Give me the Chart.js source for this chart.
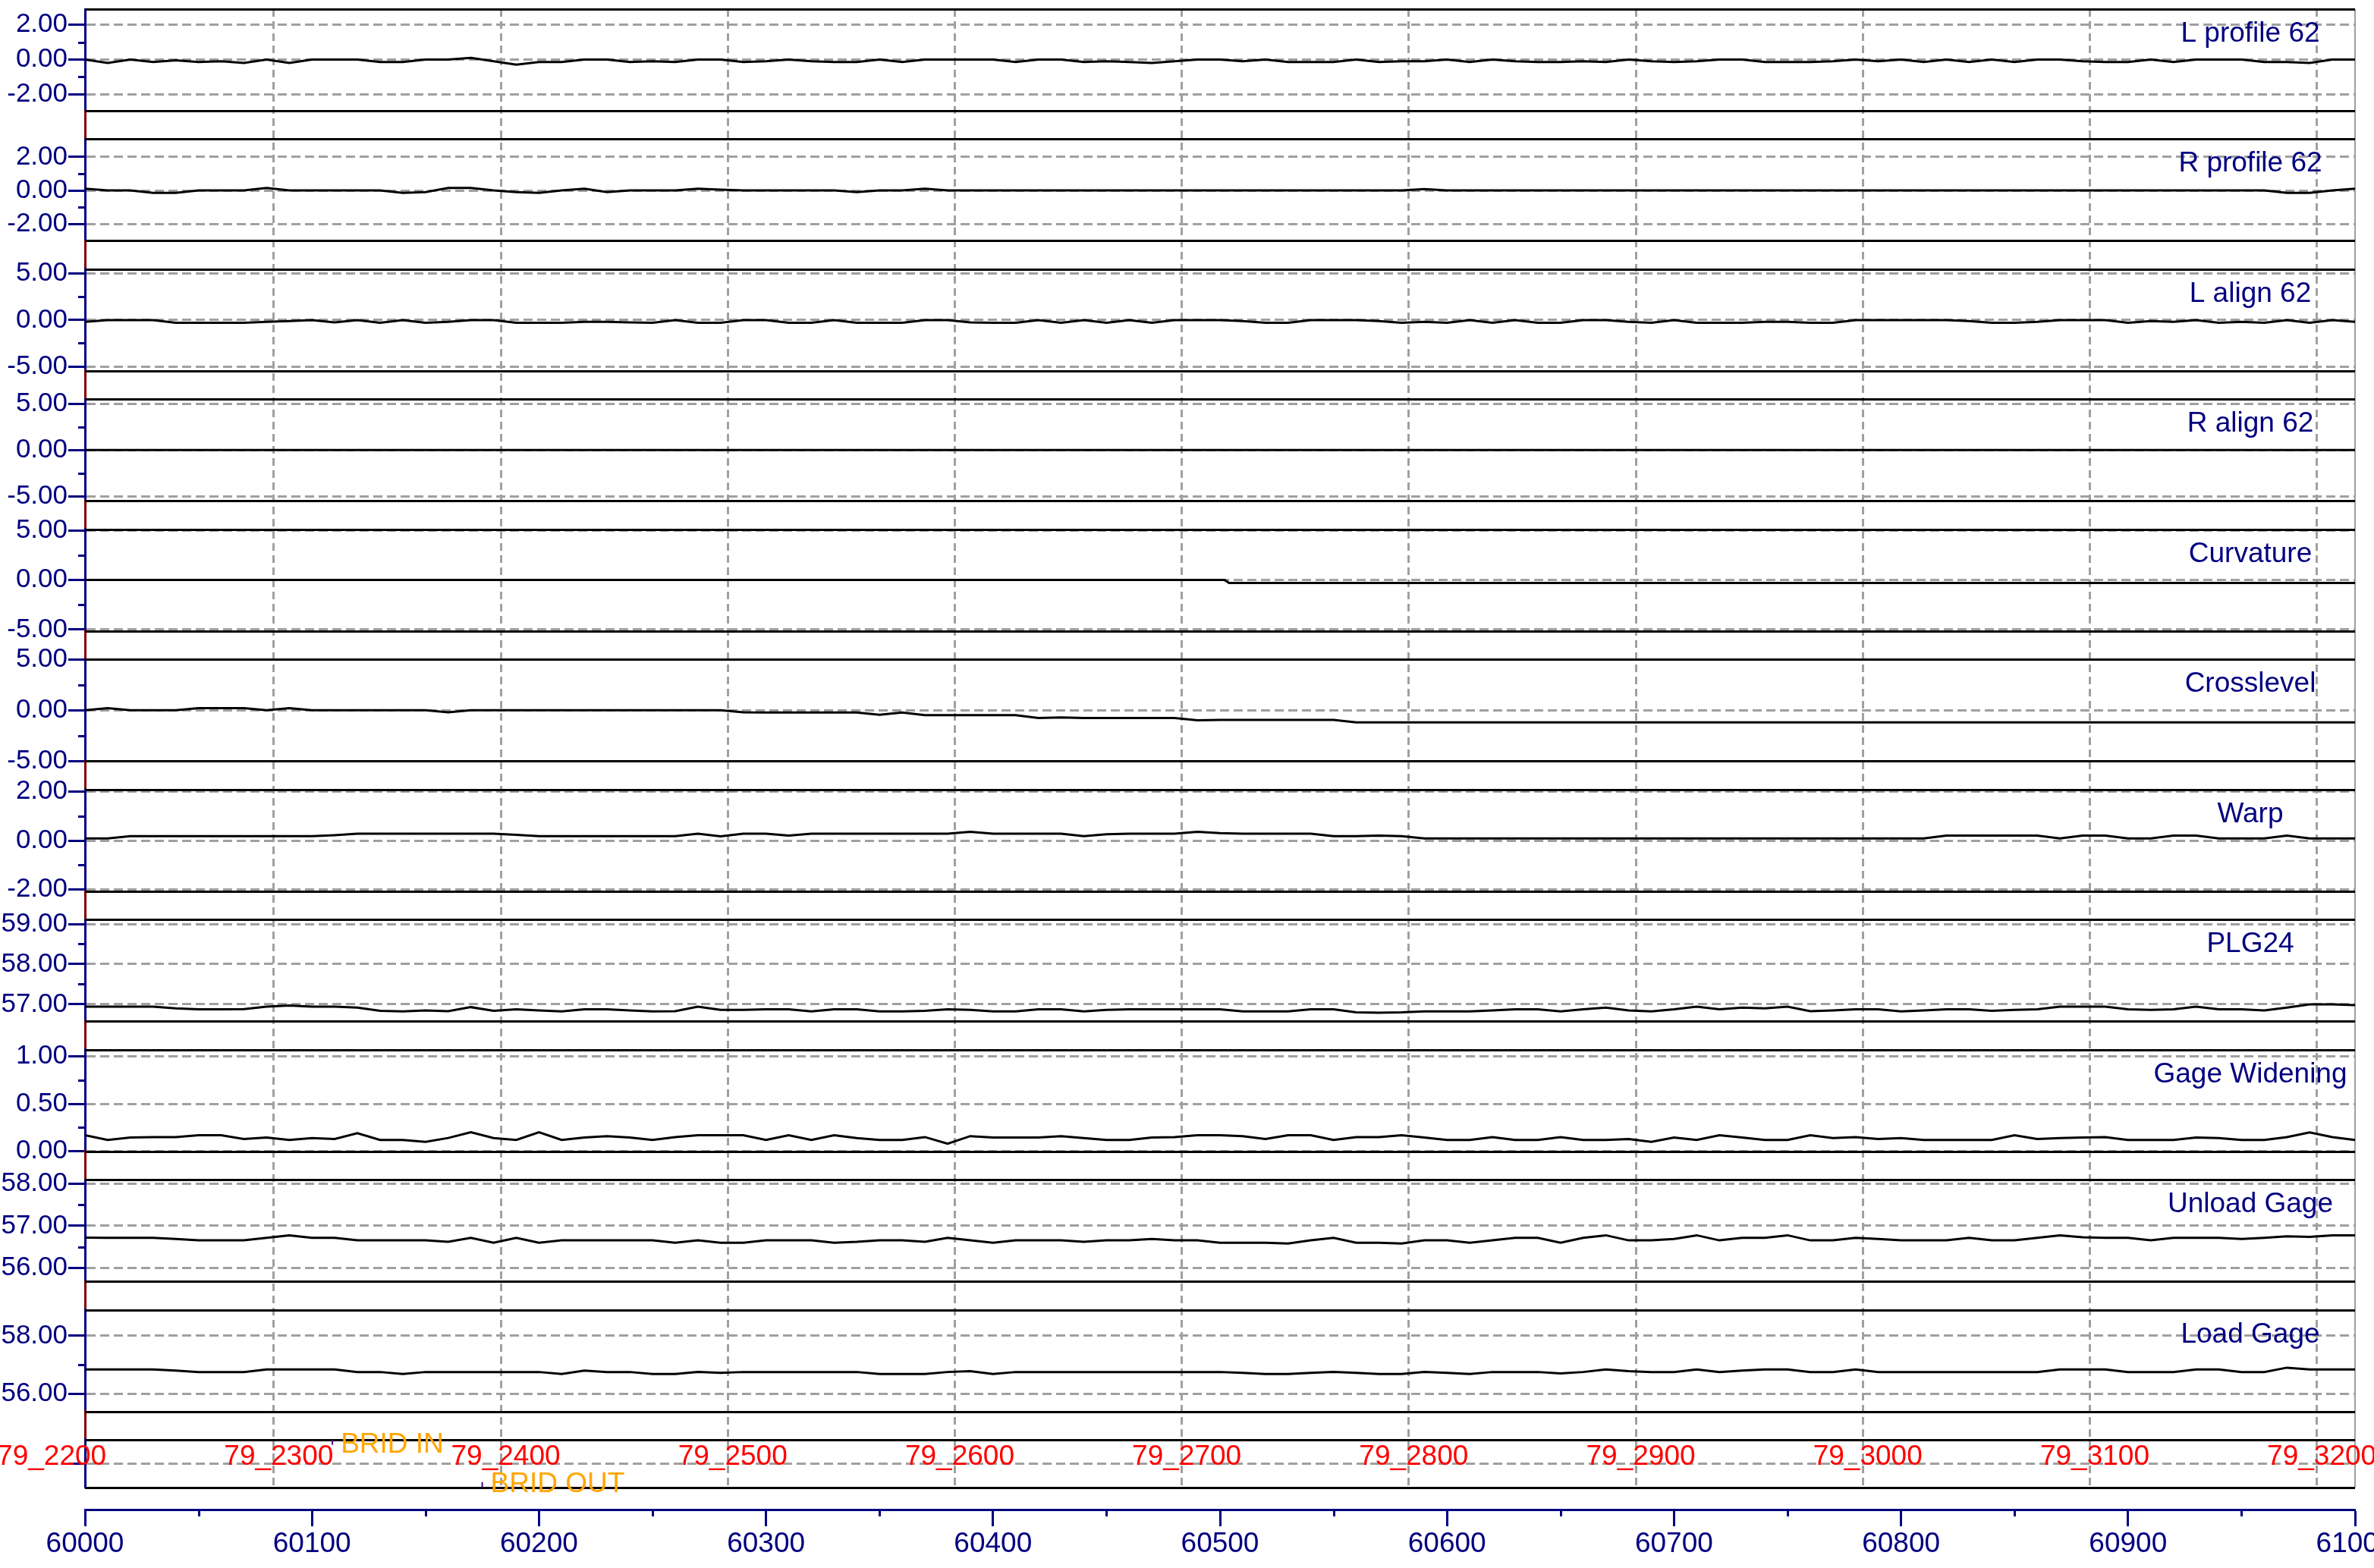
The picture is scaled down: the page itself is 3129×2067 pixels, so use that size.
<!DOCTYPE html>
<html>
<head>
<meta charset="utf-8">
<title>Track geometry strip chart</title>
<script src="https://cdn.jsdelivr.net/npm/chart.js@4.4.1/dist/chart.umd.min.js"></script>
<style>
  html, body { margin: 0; padding: 0; background: #fff; overflow: hidden; }
  #wrap { position: absolute; left: 0; top: 0; width: 3200px; height: 2067px; }
</style>
</head>
<body>
<div id="wrap"><canvas id="strip"></canvas></div>
<script>
/* ---- data ---- */
// distance samples (every 10 units)
var dist = [
  60000, 60010, 60020, 60030, 60040, 60050, 60060, 60070, 60080, 60090,
  60100, 60110, 60120, 60130, 60140, 60150, 60160, 60170, 60180, 60190,
  60200, 60210, 60220, 60230, 60240, 60250, 60260, 60270, 60280, 60290,
  60300, 60310, 60320, 60330, 60340, 60350, 60360, 60370, 60380, 60390,
  60400, 60410, 60420, 60430, 60440, 60450, 60460, 60470, 60480, 60490,
  60500, 60510, 60520, 60530, 60540, 60550, 60560, 60570, 60580, 60590,
  60600, 60610, 60620, 60630, 60640, 60650, 60660, 60670, 60680, 60690,
  60700, 60710, 60720, 60730, 60740, 60750, 60760, 60770, 60780, 60790,
  60800, 60810, 60820, 60830, 60840, 60850, 60860, 60870, 60880, 60890,
  60900, 60910, 60920, 60930, 60940, 60950, 60960, 60970, 60980, 60990,
  61000
];

var lProfile = [
  0, -0.2, 0, -0.15, -0.05, -0.15, -0.1, -0.2, 0, -0.2,
  0, 0, 0, -0.15, -0.15, 0, 0, 0.1, -0.1, -0.3,
  -0.15, -0.15, 0, 0, -0.15, -0.1, -0.15, 0, 0, -0.15,
  -0.1, 0, -0.1, -0.15, -0.15, 0, -0.15, 0, 0, 0,
  0, -0.15, 0, 0, -0.15, -0.1, -0.15, -0.2, -0.1, 0,
  0, -0.1, 0, -0.15, -0.15, -0.15, 0, -0.15, -0.1, -0.1,
  0, -0.15, 0, -0.1, -0.15, -0.15, -0.1, -0.15, 0, -0.1,
  -0.15, -0.1, 0, 0, -0.15, -0.15, -0.15, -0.1, 0, -0.1,
  0, -0.15, 0, -0.15, 0, -0.15, 0, 0, -0.1, -0.15,
  -0.15, 0, -0.15, 0, 0, 0, -0.15, -0.15, -0.2, 0,
  0
];

var rProfile = [
  0.1, 0, 0, -0.15, -0.15, 0, 0, 0, 0.15, 0,
  0, 0, 0, 0, -0.15, -0.1, 0.15, 0.15, 0, -0.1,
  -0.15, 0, 0.1, -0.1, 0, 0, 0, 0.1, 0.05, 0,
  0, 0, 0, 0, -0.1, 0, 0, 0.1, 0, 0,
  0, 0, 0, 0, 0, 0, 0, 0, 0, 0,
  0, 0, 0, 0, 0, 0, 0, 0, 0, 0.08,
  0, 0, 0, 0, 0, 0, 0, 0, 0, 0,
  0, 0, 0, 0, 0, 0, 0, 0, 0, 0,
  0, 0, 0, 0, 0, 0, 0, 0, 0, 0,
  0, 0, 0, 0, 0, 0, 0, -0.15, -0.15, 0,
  0.1
];

var lAlign = [
  -0.2, 0, 0, 0, -0.3, -0.3, -0.3, -0.3, -0.2, -0.1,
  0, -0.25, 0, -0.3, 0, -0.3, -0.2, 0, 0, -0.3,
  -0.3, -0.3, -0.2, -0.2, -0.25, -0.3, 0, -0.3, -0.3, 0,
  0, -0.3, -0.3, 0, -0.3, -0.3, -0.3, 0, 0, -0.25,
  -0.3, -0.3, 0, -0.3, 0, -0.3, 0, -0.3, 0, 0,
  0, -0.1, -0.3, -0.3, 0, 0, 0, -0.1, -0.3, -0.2,
  -0.3, 0, -0.3, 0, -0.3, -0.3, 0, 0, -0.2, -0.3,
  0, -0.3, -0.3, -0.3, -0.2, -0.2, -0.3, -0.3, 0, 0,
  0, 0, 0, -0.1, -0.3, -0.3, -0.2, 0, 0, 0,
  -0.3, -0.1, -0.2, 0, -0.3, -0.2, -0.3, 0, -0.3, 0,
  -0.2
];

// flat traces only need their end points / step
var rAlignDist = [60000, 61000];
var rAlign = [0, 0];
var curvDist = [60000, 60502, 60504, 61000];
var curvature = [0, 0, -0.3, -0.3];

var crossLevel = [
  0, 0.2, 0, 0, 0, 0.2, 0.2, 0.2, 0, 0.2,
  0, 0, 0, 0, 0, 0, -0.2, 0, 0, 0,
  0, 0, 0, 0, 0, 0, 0, 0, 0, -0.2,
  -0.23, -0.23, -0.23, -0.23, -0.23, -0.45, -0.23, -0.48, -0.48, -0.48,
  -0.48, -0.48, -0.76, -0.7, -0.76, -0.76, -0.76, -0.76, -0.76, -0.98,
  -0.95, -0.95, -0.95, -0.95, -0.95, -0.95, -1.2, -1.2, -1.2, -1.2,
  -1.2, -1.2, -1.2, -1.2, -1.2, -1.2, -1.2, -1.2, -1.2, -1.2,
  -1.2, -1.2, -1.2, -1.2, -1.2, -1.2, -1.2, -1.2, -1.2, -1.2,
  -1.2, -1.2, -1.2, -1.2, -1.2, -1.2, -1.2, -1.2, -1.2, -1.2,
  -1.2, -1.2, -1.2, -1.2, -1.2, -1.2, -1.2, -1.2, -1.2, -1.2,
  -1.2
];

var warp = [
  0.09, 0.09, 0.18, 0.18, 0.18, 0.18, 0.18, 0.18, 0.18, 0.18,
  0.18, 0.22, 0.28, 0.28, 0.28, 0.28, 0.28, 0.28, 0.28, 0.23,
  0.18, 0.18, 0.18, 0.18, 0.18, 0.18, 0.18, 0.28, 0.17, 0.28,
  0.28, 0.2, 0.28, 0.28, 0.28, 0.28, 0.28, 0.28, 0.28, 0.36,
  0.28, 0.28, 0.28, 0.28, 0.18, 0.26, 0.28, 0.28, 0.28, 0.36,
  0.3, 0.28, 0.28, 0.28, 0.28, 0.18, 0.18, 0.2, 0.18, 0.09,
  0.09, 0.09, 0.09, 0.09, 0.09, 0.09, 0.09, 0.09, 0.09, 0.09,
  0.09, 0.09, 0.09, 0.09, 0.09, 0.09, 0.09, 0.09, 0.09, 0.09,
  0.09, 0.09, 0.2, 0.2, 0.2, 0.2, 0.2, 0.09, 0.2, 0.2,
  0.09, 0.09, 0.2, 0.2, 0.09, 0.09, 0.09, 0.2, 0.09, 0.09,
  0.09
];

var plg24 = [
  56.94, 56.94, 56.94, 56.94, 56.9, 56.875, 56.875, 56.88, 56.94, 56.97,
  56.94, 56.94, 56.92, 56.84, 56.825, 56.85, 56.83, 56.93, 56.84, 56.875,
  56.85, 56.825, 56.875, 56.875, 56.85, 56.825, 56.83, 56.94, 56.86, 56.86,
  56.875, 56.875, 56.825, 56.875, 56.875, 56.825, 56.825, 56.84, 56.875, 56.86,
  56.825, 56.825, 56.875, 56.875, 56.825, 56.86, 56.875, 56.875, 56.875, 56.875,
  56.875, 56.825, 56.825, 56.825, 56.875, 56.875, 56.8, 56.79, 56.8, 56.825,
  56.825, 56.825, 56.85, 56.875, 56.875, 56.825, 56.875, 56.92, 56.85, 56.825,
  56.875, 56.94, 56.875, 56.92, 56.9, 56.94, 56.83, 56.85, 56.875, 56.875,
  56.825, 56.85, 56.875, 56.875, 56.84, 56.86, 56.875, 56.94, 56.94, 56.94,
  56.875, 56.86, 56.875, 56.94, 56.875, 56.875, 56.85, 56.92, 57.0, 57.0,
  56.98
];

var gageWidening = [
  0.17, 0.12, 0.146, 0.15, 0.15, 0.17, 0.17, 0.13, 0.146, 0.12,
  0.14, 0.13, 0.19, 0.12, 0.12, 0.1, 0.14, 0.2, 0.14, 0.12,
  0.2, 0.12, 0.146, 0.16, 0.146, 0.12, 0.15, 0.17, 0.17, 0.17,
  0.12, 0.17, 0.12, 0.17, 0.14, 0.12, 0.12, 0.15, 0.08, 0.16,
  0.146, 0.146, 0.146, 0.16, 0.14, 0.12, 0.12, 0.146, 0.15, 0.17,
  0.17, 0.16, 0.13, 0.17, 0.17, 0.12, 0.15, 0.15, 0.17, 0.146,
  0.12, 0.12, 0.15, 0.12, 0.12, 0.15, 0.12, 0.12, 0.13, 0.1,
  0.146, 0.12, 0.17, 0.146, 0.12, 0.12, 0.17, 0.14, 0.15, 0.13,
  0.14, 0.12, 0.12, 0.12, 0.12, 0.17, 0.13, 0.14, 0.146, 0.15,
  0.12, 0.12, 0.12, 0.146, 0.14, 0.12, 0.12, 0.15, 0.2, 0.15,
  0.12
];

var unloadGage = [
  56.72, 56.716, 56.716, 56.716, 56.69, 56.655, 56.655, 56.655, 56.716, 56.776,
  56.716, 56.716, 56.655, 56.655, 56.655, 56.655, 56.62, 56.716, 56.6, 56.716,
  56.6, 56.655, 56.655, 56.655, 56.655, 56.655, 56.6, 56.655, 56.6, 56.6,
  56.655, 56.655, 56.655, 56.6, 56.62, 56.655, 56.655, 56.62, 56.716, 56.655,
  56.6, 56.655, 56.655, 56.655, 56.62, 56.655, 56.655, 56.69, 56.655, 56.655,
  56.6, 56.6, 56.6, 56.58, 56.655, 56.716, 56.6, 56.6, 56.58, 56.655,
  56.655, 56.6, 56.655, 56.716, 56.716, 56.6, 56.716, 56.776, 56.655, 56.655,
  56.69, 56.776, 56.655, 56.716, 56.716, 56.776, 56.655, 56.655, 56.716, 56.69,
  56.655, 56.655, 56.655, 56.716, 56.655, 56.655, 56.716, 56.776, 56.73, 56.716,
  56.716, 56.655, 56.716, 56.716, 56.716, 56.69, 56.716, 56.75, 56.74, 56.776,
  56.776
];

var loadGage = [
  56.84, 56.84, 56.84, 56.84, 56.8, 56.75, 56.75, 56.75, 56.84, 56.84,
  56.84, 56.84, 56.75, 56.75, 56.68, 56.75, 56.75, 56.75, 56.75, 56.75,
  56.75, 56.68, 56.8, 56.75, 56.75, 56.68, 56.68, 56.75, 56.72, 56.75,
  56.75, 56.75, 56.75, 56.75, 56.75, 56.68, 56.68, 56.68, 56.75, 56.78,
  56.68, 56.75, 56.75, 56.75, 56.75, 56.75, 56.75, 56.75, 56.75, 56.75,
  56.75, 56.72, 56.68, 56.68, 56.72, 56.75, 56.72, 56.68, 56.68, 56.75,
  56.72, 56.68, 56.75, 56.75, 56.75, 56.7, 56.75, 56.84, 56.78, 56.75,
  56.75, 56.84, 56.75, 56.8, 56.84, 56.84, 56.75, 56.75, 56.84, 56.75,
  56.75, 56.75, 56.75, 56.75, 56.75, 56.75, 56.75, 56.84, 56.84, 56.84,
  56.75, 56.75, 56.75, 56.84, 56.84, 56.75, 56.75, 56.9, 56.84, 56.84,
  56.84
];

// panels, top to bottom
var panelTitles = ['L profile 62', 'R profile 62', 'L align 62', 'R align 62', 'Curvature',
  'Crosslevel', 'Warp', 'PLG24', 'Gage Widening', 'Unload Gage', 'Load Gage'];
var panelMin = [-2.96, -3.01, -5.48, -5.5, -5.15, -5.0, -2.06, 56.58, 0, 55.68, 55.39];
var panelMax = [2.91, 3.06, 5.48, 5.5, 5.11, 5.0, 2.08, 59.11, 1.073, 58.1, 58.9];
var panelMajor = [[-2, 0, 2], [-2, 0, 2], [-5, 0, 5], [-5, 0, 5], [-5, 0, 5], [-5, 0, 5],
  [-2, 0, 2], [57, 58, 59], [0, 0.5, 1], [56, 57, 58], [56, 58]];
var panelMinor = [[-1, 1], [-1, 1], [-2.5, 2.5], [-2.5, 2.5], [-2.5, 2.5], [-2.5, 2.5],
  [-1, 1], [57.5, 58.5], [0.25, 0.75], [56.5, 57.5], [57]];
var seriesDist = [dist, dist, dist, rAlignDist, curvDist, dist, dist, dist, dist, dist, dist];
var seriesVals = [lProfile, rProfile, lAlign, rAlign, curvature, crossLevel, warp, plg24,
  gageWidening, unloadGage, loadGage];

// x axis
var xTicks = [60000, 60100, 60200, 60300, 60400, 60500, 60600, 60700, 60800, 60900, 61000];
var xMinor = [60050, 60150, 60250, 60350, 60450, 60550, 60650, 60750, 60850, 60950];

// mileposts and events
var milePos = [59983, 60083, 60183, 60283, 60383, 60483, 60583, 60683, 60783, 60883, 60983];
var mileLabels = ['79_2200', '79_2300', '79_2400', '79_2500', '79_2600', '79_2700',
  '79_2800', '79_2900', '79_3000', '79_3100', '79_3200'];
var eventNames = ['BRID IN', 'BRID OUT'];
var eventPos = [60109, 60175];
var eventLevel = [0.95, 0.06];

/* ---- styling ---- */
var NAVY = '#000080';
var GRID = '#a0a0a0';
var MAROON = '#800000';
var FONT = '"Liberation Sans", Arial, Helvetica, sans-serif';
Chart.defaults.font.family = FONT;

function fixWidth(s) {
  s.width = 112;
  s.paddingTop = 0;
  s.paddingBottom = 0;
}

function panelAxis(i, w) {
  return {
    type: 'linear', position: 'left', stack: 'strip', stackWeight: 134, weight: w,
    min: panelMin[i], max: panelMax[i],
    afterBuildTicks: function (s) {
      s.ticks = panelMajor[i].map(function (v) { return { value: v }; });
    },
    afterFit: fixWidth,
    grid: { color: GRID, lineWidth: 3, drawTicks: true, tickLength: 22, tickColor: NAVY, tickWidth: 3 },
    border: { display: true, color: NAVY, width: 3, dash: [12, 6] },
    ticks: {
      color: NAVY, font: { size: 35 }, padding: 1, autoSkip: false,
      callback: function (v) { return Number(v).toFixed(2); }
    }
  };
}

function spacerAxis(w, h, color) {
  return {
    type: 'linear', position: 'left', stack: 'strip', stackWeight: h, weight: w,
    afterFit: fixWidth,
    grid: { display: false, drawTicks: false },
    border: { display: !!color, color: color || MAROON, width: 3 },
    ticks: { display: false }
  };
}

var scales = {
  x: {
    type: 'linear', position: 'bottom', min: 60000, max: 61000,
    afterBuildTicks: function (s) {
      s.ticks = xTicks.map(function (v) { return { value: v }; });
    },
    afterFit: function (s) { s.height = 77; s.paddingLeft = 0; s.paddingRight = 0; },
    grid: { display: true, drawOnChartArea: false, drawTicks: true, tickLength: 22, tickColor: NAVY, tickWidth: 3 },
    border: { display: true, color: NAVY, width: 3 },
    ticks: {
      color: NAVY, font: { size: 37 }, padding: 2, autoSkip: false, maxRotation: 0,
      callback: function (v) { return String(v); }
    }
  }
};
for (var i = 0; i < panelTitles.length; i++) {
  scales['p' + i] = panelAxis(i, 100 - 2 * i);
  scales['s' + i] = spacerAxis(99 - 2 * i, 37.45, MAROON);
}
scales.ev = {
  type: 'linear', position: 'left', stack: 'strip', stackWeight: 63, weight: 78,
  min: 0, max: 1,
  afterBuildTicks: function (s) { s.ticks = [{ value: 0.5 }]; },
  afterFit: fixWidth,
  grid: { color: GRID, lineWidth: 3, drawTicks: true, tickLength: 22, tickColor: NAVY, tickWidth: 3 },
  border: { display: true, color: NAVY, width: 3, dash: [12, 6] },
  ticks: { display: false }
};
scales.sb = spacerAxis(77, 29, null);

var datasets = seriesVals.map(function (vals, i) {
  var xs = seriesDist[i];
  return {
    type: 'line',
    label: panelTitles[i],
    xAxisID: 'x',
    yAxisID: 'p' + i,
    data: xs.map(function (d, j) { return { x: d, y: vals[j] }; }),
    borderColor: '#000',
    borderWidth: 3,
    pointRadius: 0,
    tension: 0,
    fill: false
  };
});
var eventSet = datasets.length;
datasets.push({
  type: 'scatter',
  label: 'events',
  xAxisID: 'x',
  yAxisID: 'ev',
  data: eventPos.map(function (d, j) { return { x: d, y: eventLevel[j] }; }),
  pointStyle: 'line',
  rotation: 90,
  radius: 3.5,
  borderColor: '#4b0082',
  borderWidth: 2
});

/* ---- decorations: frame lines, mileposts, minor ticks, titles ---- */
var stripDecor = {
  id: 'stripDecor',
  beforeDatasetsDraw: function (chart) {
    var ctx = chart.ctx, ca = chart.chartArea, xs = chart.scales.x, ev = chart.scales.ev;
    ctx.save();
    ctx.strokeStyle = GRID;
    ctx.lineWidth = 3;
    ctx.setLineDash([10, 6]);
    milePos.forEach(function (v) {
      if (v < xs.min || v > xs.max) return;
      var px = Math.round(xs.getPixelForValue(v)) + 0.5;
      ctx.beginPath();
      ctx.moveTo(px, ca.top);
      ctx.lineTo(px, ev.bottom);
      ctx.stroke();
    });
    ctx.setLineDash([]);
    ctx.lineWidth = 2;
    ctx.beginPath();
    ctx.moveTo(ca.right, ca.top);
    ctx.lineTo(ca.right, ev.bottom);
    ctx.stroke();

    ctx.strokeStyle = '#000';
    ctx.lineWidth = 3;
    var ids = panelTitles.map(function (t, k) { return 'p' + k; }).concat(['ev']);
    ids.forEach(function (id) {
      var s = chart.scales[id];
      [s.top, s.bottom].forEach(function (y) {
        var yy = Math.round(y) + 0.5;
        ctx.beginPath();
        ctx.moveTo(ca.left, yy);
        ctx.lineTo(ca.right, yy);
        ctx.stroke();
      });
    });
    ctx.restore();
  },
  afterDraw: function (chart) {
    var ctx = chart.ctx, ca = chart.chartArea, xs = chart.scales.x, ev = chart.scales.ev;
    ctx.save();
    // minor ticks
    ctx.strokeStyle = NAVY;
    ctx.lineWidth = 3;
    panelMinor.forEach(function (list, k) {
      var s = chart.scales['p' + k];
      list.forEach(function (v) {
        var y = Math.round(s.getPixelForValue(v)) + 0.5;
        ctx.beginPath();
        ctx.moveTo(s.right - 9, y);
        ctx.lineTo(s.right, y);
        ctx.stroke();
      });
    });
    xMinor.forEach(function (v) {
      var x = Math.round(xs.getPixelForValue(v)) + 0.5;
      ctx.beginPath();
      ctx.moveTo(x, xs.top);
      ctx.lineTo(x, xs.top + 9);
      ctx.stroke();
    });

    // panel titles
    ctx.fillStyle = NAVY;
    ctx.font = '37px ' + FONT;
    ctx.textAlign = 'center';
    ctx.textBaseline = 'alphabetic';
    panelTitles.forEach(function (t, k) {
      var s = chart.scales['p' + k];
      ctx.fillText(t, ca.right - 138, s.top + 43);
    });

    // milepost labels
    ctx.fillStyle = '#ff0000';
    var my = ev.getPixelForValue(0.5) + 2;
    milePos.forEach(function (v, k) {
      ctx.fillText(mileLabels[k], xs.getPixelForValue(v) + 7, my);
    });

    // event labels
    ctx.fillStyle = '#ffa500';
    ctx.textAlign = 'left';
    var pts = chart.getDatasetMeta(eventSet).data;
    pts.forEach(function (p, k) {
      var dy = eventLevel[k] > 0.5 ? 14 : 10;
      ctx.fillText(eventNames[k], p.x + 11, p.y + dy);
    });
    ctx.restore();
  }
};

new Chart(document.getElementById('strip'), {
  type: 'line',
  data: { datasets: datasets },
  options: {
    responsive: true,
    maintainAspectRatio: false,
    devicePixelRatio: 1,
    animation: false,
    events: [],
    layout: { padding: { left: 0, top: 12, right: 96, bottom: 0 } },
    plugins: {
      legend: { display: false },
      tooltip: { enabled: false },
      title: { display: false }
    },
    scales: scales
  },
  plugins: [stripDecor]
});
</script>
</body>
</html>
